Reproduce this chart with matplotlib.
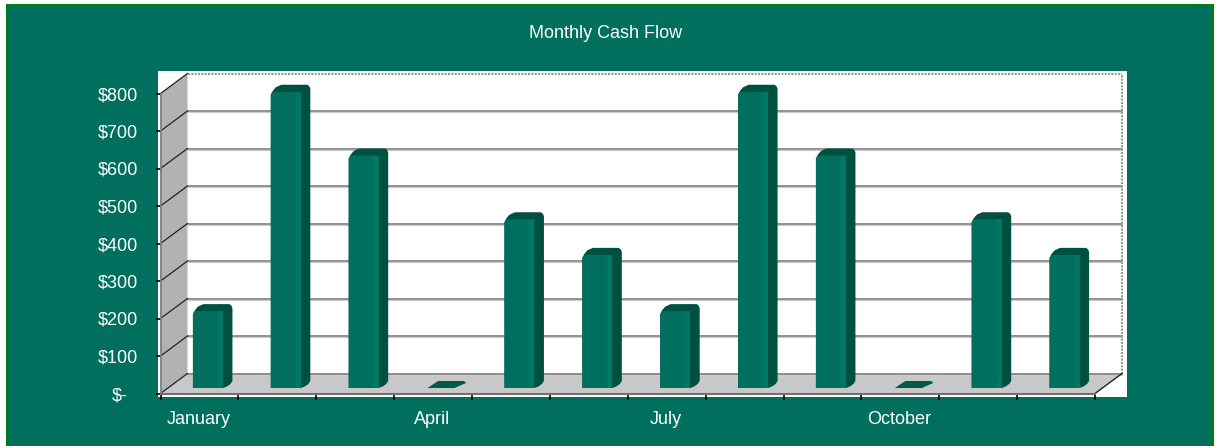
#!/usr/bin/env python3
import matplotlib
matplotlib.use('Agg')
import matplotlib.pyplot as plt
from matplotlib.patches import Rectangle, Polygon

plt.rcParams['font.family'] = ['Liberation Sans', 'DejaVu Sans']

months = ['January', '', '', 'April', '', '', 'July', '', '', 'October', '', '']
values = [205, 790, 620, 0, 450, 355, 205, 790, 620, 0, 450, 355]
ytick_vals = [0, 100, 200, 300, 400, 500, 600, 700, 800]
ytick_labels = ['$-', '$100', '$200', '$300', '$400', '$500', '$600', '$700', '$800']

TEAL = '#006F5E'
TEAL_DARK = '#00503F'
TEAL_TOP = '#005A49'
STRIP_COLORS = ['#007361', '#007664', '#007A67', '#007562']
W, H = 1216, 446

fig = plt.figure(figsize=(W / 100, H / 100), dpi=100, facecolor='white')

# outer panel and the white plot area (in pixels, converted to figure coords)
def fig_rect(x0, y0, x1, y1, **kw):
    fig.add_artist(Rectangle((x0 / W, 1 - y1 / H), (x1 - x0) / W, (y1 - y0) / H,
                             transform=fig.transFigure, **kw))

fig_rect(6, 4, 1214, 446, facecolor='#008000', edgecolor='none')
fig_rect(8, 6, 1212, 446, facecolor=TEAL, edgecolor='none')
fig_rect(158, 71, 1127, 397, facecolor='white', edgecolor='none')

ax = fig.add_axes([160.5 / W, 1 - 393.5 / H, 934.5 / W, 300 / H])
ax.set_zorder(5)
ax.set_xlim(0, 12)
ax.set_ylim(0, 800)
ax.patch.set_alpha(0)
for s in ax.spines.values():
    s.set_visible(False)

# pixel sizes in data units
PX = 12 / 934.5
PY = 800 / 300
dx = 27 * PX     # depth of the chart box
dy = 20 * PY

# side wall and floor
ax.add_patch(Polygon([(0, 0), (dx, dy), (dx, 800 + dy), (0, 800)], closed=True,
                     facecolor='#B2B2B2', edgecolor='none', clip_on=False, zorder=1))
ax.add_patch(Polygon([(0, 0), (12, 0), (12 + dx, dy), (dx, dy)], closed=True,
                     facecolor='#C8C8C8', edgecolor='none', clip_on=False, zorder=1))

# gridlines on back wall and diagonals on the side wall
for v in ytick_vals:
    if v < 800:
        ax.plot([dx, 12 + dx], [v + dy - 1.2 * PY] * 2, color='#CCCCCC', lw=0.8,
                clip_on=False, zorder=2)
        ax.plot([dx, 12 + dx], [v + dy] * 2, color='#808080', lw=1.2, clip_on=False, zorder=2)
    ax.plot([0, dx], [v, v + dy], color='#222222', lw=0.9, clip_on=False, zorder=2)
ax.plot([dx, 12 + dx], [800 + dy] * 2, color='#999999', lw=1.5, ls=(0, (1, 0.6)),
        clip_on=False, zorder=2)
ax.plot([12 + dx] * 2, [dy, 800 + dy], color='#999999', lw=1.5, ls=(0, (1, 0.6)),
        clip_on=False, zorder=2)
ax.plot([12, 12 + dx], [0, dy], color='#222222', lw=1.0, clip_on=False, zorder=2)

# front axis lines
ax.plot([0, 0], [0, 800], color='#808080', lw=1.3, clip_on=False, zorder=2)
ax.plot([0, 12], [0, 0], color='#707070', lw=1.5, clip_on=False, zorder=2)

# bars
bw = 30 * PX     # front face width
bd = 9.5 * PX    # depth shown on the side
br = 7 * PY      # rise of the top face
sx = 8.5 * PX    # shift of the bar plane from the front of the box
sy = 5.5 * PY

for i, v in enumerate(values):
    x0 = i + 0.5 + sx - bw / 2
    x1 = x0 + bw
    y0 = sy
    y1 = sy + v
    if v == 0:
        ax.add_patch(Polygon([(x0 + 1 * PX, y0), (x1 - 2 * PX, y0), (x1 + bd, y0 + br - 2 * PY),
                              (x1 + bd - 2 * PX, y0 + br), (x0 + bd + 2 * PX, y0 + br)],
                             closed=True, facecolor=TEAL_TOP, edgecolor='none',
                             clip_on=False, zorder=3))
        continue
    # dark silhouette gives the side and top faces
    ax.add_patch(Polygon([(x0, y0), (x1, y0), (x1 + 4 * PX, y0 + 1.5 * PY),
                          (x1 + 7.5 * PX, y0 + 4 * PY), (x1 + bd, y0 + br),
                          (x1 + bd, y1 + br - 4 * PY), (x1 + bd - 1 * PX, y1 + br - 1.5 * PY),
                          (x1 + bd - 3 * PX, y1 + br), (x0 + bd + 1 * PX, y1 + br),
                          (x0 + 5 * PX, y1 + 4.5 * PY), (x0 + 2 * PX, y1 + 1 * PY),
                          (x0, y1 - 3 * PY)],
                         closed=True, facecolor=TEAL_DARK, edgecolor='none',
                         clip_on=False, zorder=3))
    # front face
    ax.add_patch(Polygon([(x0, y0), (x1, y0), (x1, y1), (x0 + 3 * PX, y1),
                          (x0 + 1 * PX, y1 - 1.5 * PY), (x0, y1 - 3 * PY)],
                         closed=True, facecolor=TEAL, edgecolor='none',
                         clip_on=False, zorder=4))
    # soft highlight towards the right of the front face
    for k, c in enumerate(STRIP_COLORS):
        ax.add_patch(Rectangle((x1 - (6 - 1.5 * k) * PX, y0), 1.5 * PX, v, facecolor=c,
                               edgecolor='none', clip_on=False, zorder=4))

# ticks and labels
ax.set_yticks(ytick_vals)
ax.set_yticklabels(ytick_labels, color='white', fontsize=13)
ax.tick_params(axis='y', length=3.6, width=1.2, color='black', pad=12.5)
ax.set_xticks(range(13))
ax.set_xticklabels([''] * 13)
ax.tick_params(axis='x', length=4.5, width=1.2, color='black', direction='out')
for i, m in enumerate(months):
    if m:
        ax.annotate(m, xy=(i + 0.5, 0), xytext=(-1, -26.5), textcoords='offset pixels',
                    ha='center', va='center', color='white', fontsize=13, annotation_clip=False)
for t in ax.get_xticklines() + ax.get_yticklines():
    t.set_zorder(6)

# the "$-" label sits further in than the others
ax.get_yticklabels()[0].set_x(-0.0115)

fig.text(606 / W, 1 - 33 / H, 'Monthly Cash Flow', ha='center', va='center',
         color='white', fontsize=13)

fig.savefig('out.png', dpi=100, facecolor='white')
